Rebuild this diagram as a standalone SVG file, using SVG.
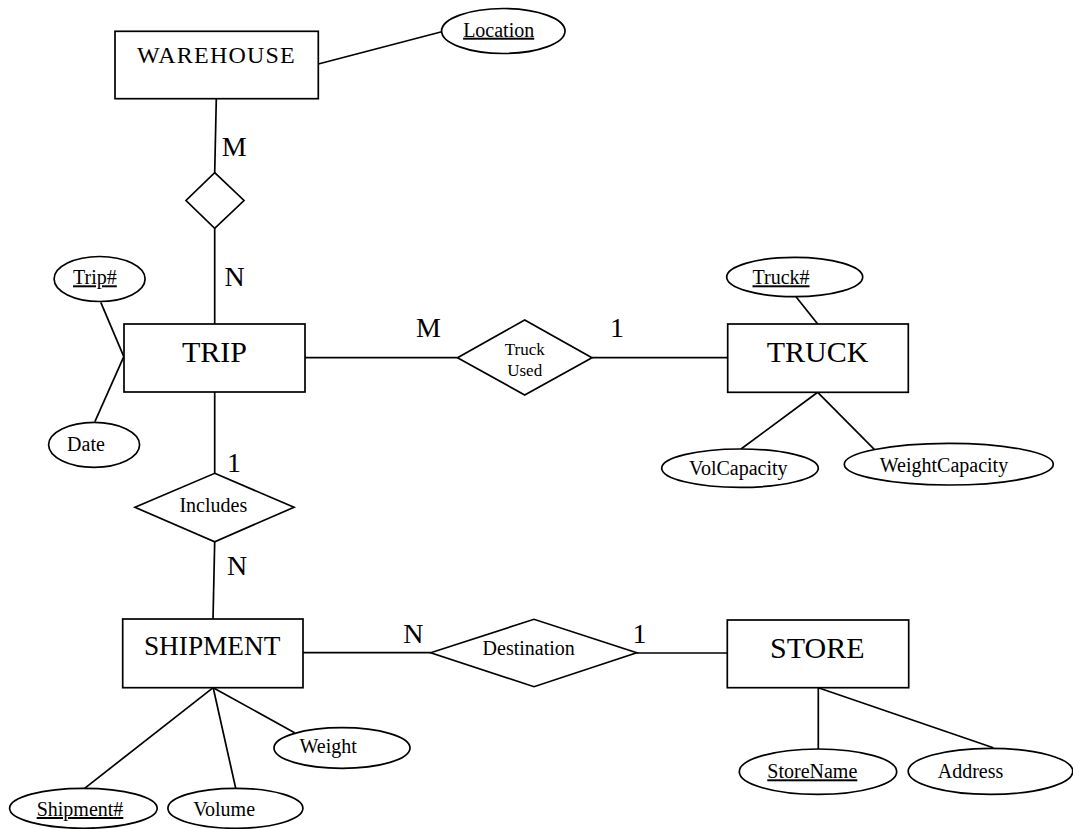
<svg xmlns="http://www.w3.org/2000/svg" width="1073" height="829" viewBox="0 0 1073 829">
<style>
  .shape { fill: #ffffff; stroke: #000000; stroke-width: 1.7; }
  .conn line { stroke: #000000; stroke-width: 1.7; }
  text { font-family: "Liberation Serif", "Times New Roman", serif; fill: #000000; text-anchor: middle; }
  .ent { font-size: 30px; }
  .attr { font-size: 20px; }
  .key { text-decoration: underline; }
  .card { font-size: 28px; }
  .rel { font-size: 17px; }
</style>
<rect width="1073" height="829" fill="#ffffff"/>
<g id="connectors" class="conn">
  <line x1="318.3" y1="64" x2="441.7" y2="31.7"/>
  <line x1="216.3" y1="98.7" x2="214.7" y2="172.7"/>
  <line x1="214.7" y1="228.3" x2="214.7" y2="324"/>
  <line x1="100.8" y1="302.3" x2="123.8" y2="356.7"/>
  <line x1="94.9" y1="421.7" x2="123.8" y2="356.7"/>
  <line x1="305" y1="357.7" x2="457.5" y2="357.7"/>
  <line x1="592" y1="357.7" x2="727.7" y2="357.7"/>
  <line x1="796" y1="296.7" x2="817.7" y2="324"/>
  <line x1="817.7" y1="392.3" x2="741" y2="449"/>
  <line x1="817.7" y1="392.3" x2="874.3" y2="449.3"/>
  <line x1="214.7" y1="392" x2="214.7" y2="473.3"/>
  <line x1="214.7" y1="541.7" x2="213" y2="619"/>
  <line x1="303" y1="652.7" x2="430.7" y2="652.7"/>
  <line x1="636.7" y1="653" x2="727.3" y2="653"/>
  <line x1="213.2" y1="687.7" x2="84.6" y2="788.3"/>
  <line x1="213.2" y1="687.7" x2="235.7" y2="788.3"/>
  <line x1="213.2" y1="687.7" x2="294.6" y2="732.7"/>
  <line x1="818.3" y1="687.7" x2="818.3" y2="749"/>
  <line x1="818.3" y1="687.7" x2="993.3" y2="747.7"/>
</g>
<g id="warehouse">
  <rect class="shape" x="115" y="31.3" width="203.3" height="67.4"/>
  <text class="ent" x="216.5" y="63.3" style="font-size:24px;letter-spacing:1.2px">WAREHOUSE</text>
</g>
<g id="location">
  <ellipse class="shape" cx="503.3" cy="31" rx="61.7" ry="22.5"/>
  <text class="attr key" x="498.7" y="36.7">Location</text>
</g>
<g id="warehouse-trip-rel">
  <polygon class="shape" points="214.7,172.7 244,200.5 214.7,228.3 186,200.5"/>
</g>
<g id="trip">
  <rect class="shape" x="124" y="324" width="181" height="68"/>
  <text class="ent" x="214.5" y="361.7">TRIP</text>
</g>
<g id="trip-no">
  <ellipse class="shape" cx="99.6" cy="279" rx="45.5" ry="22.5"/>
  <text class="attr key" x="94.9" y="284.3">Trip#</text>
</g>
<g id="date">
  <ellipse class="shape" cx="94.1" cy="444.8" rx="45.5" ry="22.5"/>
  <text class="attr" x="86" y="450.7">Date</text>
</g>
<g id="truck-used">
  <polygon class="shape" points="457.5,357.7 524.7,320 592,357.7 524.7,395"/>
  <text class="rel" x="524.7" y="355">Truck</text>
  <text class="rel" x="524.7" y="376">Used</text>
</g>
<g id="truck">
  <rect class="shape" x="727.7" y="324" width="180.6" height="68.3"/>
  <text class="ent" x="817.5" y="361.7">TRUCK</text>
</g>
<g id="truck-no">
  <ellipse class="shape" cx="794.7" cy="277" rx="68" ry="19.7"/>
  <text class="attr key" x="781" y="284.3">Truck#</text>
</g>
<g id="volcapacity">
  <ellipse class="shape" cx="740" cy="468.2" rx="78.3" ry="19.2"/>
  <text class="attr" x="738.3" y="475">VolCapacity</text>
</g>
<g id="weightcapacity">
  <ellipse class="shape" cx="948.8" cy="464.2" rx="104.5" ry="20.8"/>
  <text class="attr" x="944" y="471.7">WeightCapacity</text>
</g>
<g id="includes">
  <polygon class="shape" points="214.7,473.3 294,507.3 214.7,541.7 135,507.3"/>
  <text class="attr" x="213.3" y="511.7">Includes</text>
</g>
<g id="shipment">
  <rect class="shape" x="122.7" y="619" width="180.3" height="68.7"/>
  <text class="ent" x="212.2" y="655" style="font-size:27.3px">SHIPMENT</text>
</g>
<g id="destination">
  <polygon class="shape" points="430.7,652.7 534,619.3 636.7,652.7 534,686.7"/>
  <text class="attr" x="528.7" y="655">Destination</text>
</g>
<g id="store">
  <rect class="shape" x="727.3" y="620" width="181.4" height="67.7"/>
  <text class="ent" x="817.3" y="658.3">STORE</text>
</g>
<g id="shipment-no">
  <ellipse class="shape" cx="83.4" cy="808.3" rx="73.8" ry="20"/>
  <text class="attr key" x="80" y="816">Shipment#</text>
</g>
<g id="volume">
  <ellipse class="shape" cx="235.4" cy="808.3" rx="67.5" ry="20"/>
  <text class="attr" x="224.1" y="816">Volume</text>
</g>
<g id="weight">
  <ellipse class="shape" cx="342" cy="748" rx="68" ry="20.3"/>
  <text class="attr" x="328.2" y="753.3">Weight</text>
</g>
<g id="storename">
  <ellipse class="shape" cx="818" cy="771.7" rx="78.7" ry="22.7"/>
  <text class="attr key" x="812.3" y="778.3">StoreName</text>
</g>
<g id="address">
  <ellipse class="shape" cx="990.5" cy="771.3" rx="82.3" ry="23"/>
  <text class="attr" x="970.5" y="778.3">Address</text>
</g>
<g id="cardinalities" class="card">
  <text class="card" x="234.2" y="155.7">M</text>
  <text class="card" x="234.5" y="286">N</text>
  <text class="card" x="428.5" y="337.3">M</text>
  <text class="card" x="617" y="336.7">1</text>
  <text class="card" x="234" y="471.7">1</text>
  <text class="card" x="237" y="575">N</text>
  <text class="card" x="413.3" y="642.7">N</text>
  <text class="card" x="639.5" y="642.7">1</text>
</g>
</svg>
